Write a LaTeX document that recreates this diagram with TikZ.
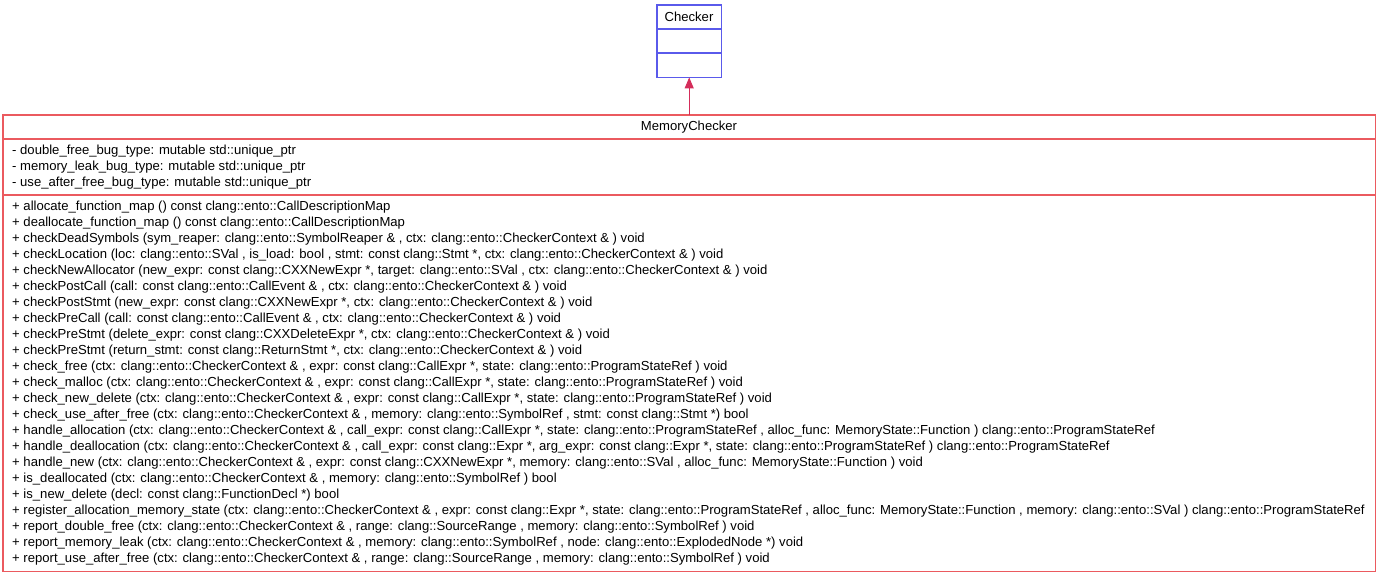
\documentclass[tikz,border=0pt]{standalone}
\usepackage{fontspec}
\setmainfont{Liberation Sans}
\usetikzlibrary{arrows.meta}

\definecolor{classblue}{HTML}{5A5AEB}
\definecolor{classred}{HTML}{EB5A5F}
\definecolor{linkred}{HTML}{D42D5A}

\tikzset{
    umltext/.style={font=\fontsize{13.1}{15}\selectfont, inner sep=0pt},
    member/.style={umltext, anchor=west},
    classframe/.style={anchor=north west, inner sep=0pt},
    blueline/.style={classblue, line width=1.2pt},
    redline/.style={classred, line width=1.2pt},
    inherit/.style={linkred, line width=1pt, -{Triangle[width=9pt, length=11pt]}}
}

\begin{document}
\begin{tikzpicture}[x=1pt, y=-1pt]
    \useasboundingbox (0,0) rectangle (1378,576);

    % base class
    \node[classframe, minimum width=64pt, minimum height=72pt] (checker) at (657,5) {};
    \draw[blueline] (checker.north west) rectangle (checker.south east);
    \node[umltext] (checkername) at (689,17) {Checker};
    \draw[blueline] (657,29) -- (721,29);
    \draw[blueline] (657,53) -- (721,53);

    % derived class
    \node[classframe, minimum width=1372pt, minimum height=456pt] (memchk) at (3,115) {};
    \draw[redline] (memchk.north west) rectangle (memchk.south east);
    \node[umltext] (memchkname) at (689,127) {MemoryChecker};
    \draw[redline] (3,139) -- (1375,139);
    \draw[redline] (3,195) -- (1375,195);

    \draw[inherit] (memchk.north -| checker.south) -- (checker.south);

    % attributes
    \node[member] (a1) at (12,151) {- double\_free\_bug\_type: mutable std::unique\_ptr};
    \node[member] (a2) at (12,167) {- memory\_leak\_bug\_type: mutable std::unique\_ptr};
    \node[member] (a3) at (12,183) {- use\_after\_free\_bug\_type: mutable std::unique\_ptr};

    % operations
    \node[member] (m1) at (12,207) {+ allocate\_function\_map () const clang::ento::CallDescriptionMap};
    \node[member] (m2) at (12,223) {+ deallocate\_function\_map () const clang::ento::CallDescriptionMap};
    \node[member] (m3) at (12,239) {+ checkDeadSymbols (sym\_reaper: clang::ento::SymbolReaper \& , ctx: clang::ento::CheckerContext \& ) void};
    \node[member] (m4) at (12,255) {+ checkLocation (loc: clang::ento::SVal , is\_load: bool , stmt: const clang::Stmt *, ctx: clang::ento::CheckerContext \& ) void};
    \node[member] (m5) at (12,271) {+ checkNewAllocator (new\_expr: const clang::CXXNewExpr *, target: clang::ento::SVal , ctx: clang::ento::CheckerContext \& ) void};
    \node[member] (m6) at (12,287) {+ checkPostCall (call: const clang::ento::CallEvent \& , ctx: clang::ento::CheckerContext \& ) void};
    \node[member] (m7) at (12,303) {+ checkPostStmt (new\_expr: const clang::CXXNewExpr *, ctx: clang::ento::CheckerContext \& ) void};
    \node[member] (m8) at (12,319) {+ checkPreCall (call: const clang::ento::CallEvent \& , ctx: clang::ento::CheckerContext \& ) void};
    \node[member] (m9) at (12,335) {+ checkPreStmt (delete\_expr: const clang::CXXDeleteExpr *, ctx: clang::ento::CheckerContext \& ) void};
    \node[member] (m10) at (12,351) {+ checkPreStmt (return\_stmt: const clang::ReturnStmt *, ctx: clang::ento::CheckerContext \& ) void};
    \node[member] (m11) at (12,367) {+ check\_free (ctx: clang::ento::CheckerContext \& , expr: const clang::CallExpr *, state: clang::ento::ProgramStateRef ) void};
    \node[member] (m12) at (12,383) {+ check\_malloc (ctx: clang::ento::CheckerContext \& , expr: const clang::CallExpr *, state: clang::ento::ProgramStateRef ) void};
    \node[member] (m13) at (12,399) {+ check\_new\_delete (ctx: clang::ento::CheckerContext \& , expr: const clang::CallExpr *, state: clang::ento::ProgramStateRef ) void};
    \node[member] (m14) at (12,415) {+ check\_use\_after\_free (ctx: clang::ento::CheckerContext \& , memory: clang::ento::SymbolRef , stmt: const clang::Stmt *) bool};
    \node[member] (m15) at (12,431) {+ handle\_allocation (ctx: clang::ento::CheckerContext \& , call\_expr: const clang::CallExpr *, state: clang::ento::ProgramStateRef , alloc\_func: MemoryState::Function ) clang::ento::ProgramStateRef};
    \node[member] (m16) at (12,447) {+ handle\_deallocation (ctx: clang::ento::CheckerContext \& , call\_expr: const clang::Expr *, arg\_expr: const clang::Expr *, state: clang::ento::ProgramStateRef ) clang::ento::ProgramStateRef};
    \node[member] (m17) at (12,463) {+ handle\_new (ctx: clang::ento::CheckerContext \& , expr: const clang::CXXNewExpr *, memory: clang::ento::SVal , alloc\_func: MemoryState::Function ) void};
    \node[member] (m18) at (12,479) {+ is\_deallocated (ctx: clang::ento::CheckerContext \& , memory: clang::ento::SymbolRef ) bool};
    \node[member] (m19) at (12,495) {+ is\_new\_delete (decl: const clang::FunctionDecl *) bool};
    \node[member] (m20) at (12,511) {+ register\_allocation\_memory\_state (ctx: clang::ento::CheckerContext \& , expr: const clang::Expr *, state: clang::ento::ProgramStateRef , alloc\_func: MemoryState::Function , memory: clang::ento::SVal ) clang::ento::ProgramStateRef};
    \node[member] (m21) at (12,527) {+ report\_double\_free (ctx: clang::ento::CheckerContext \& , range: clang::SourceRange , memory: clang::ento::SymbolRef ) void};
    \node[member] (m22) at (12,543) {+ report\_memory\_leak (ctx: clang::ento::CheckerContext \& , memory: clang::ento::SymbolRef , node: clang::ento::ExplodedNode *) void};
    \node[member] (m23) at (12,559) {+ report\_use\_after\_free (ctx: clang::ento::CheckerContext \& , range: clang::SourceRange , memory: clang::ento::SymbolRef ) void};
\end{tikzpicture}
\end{document}
